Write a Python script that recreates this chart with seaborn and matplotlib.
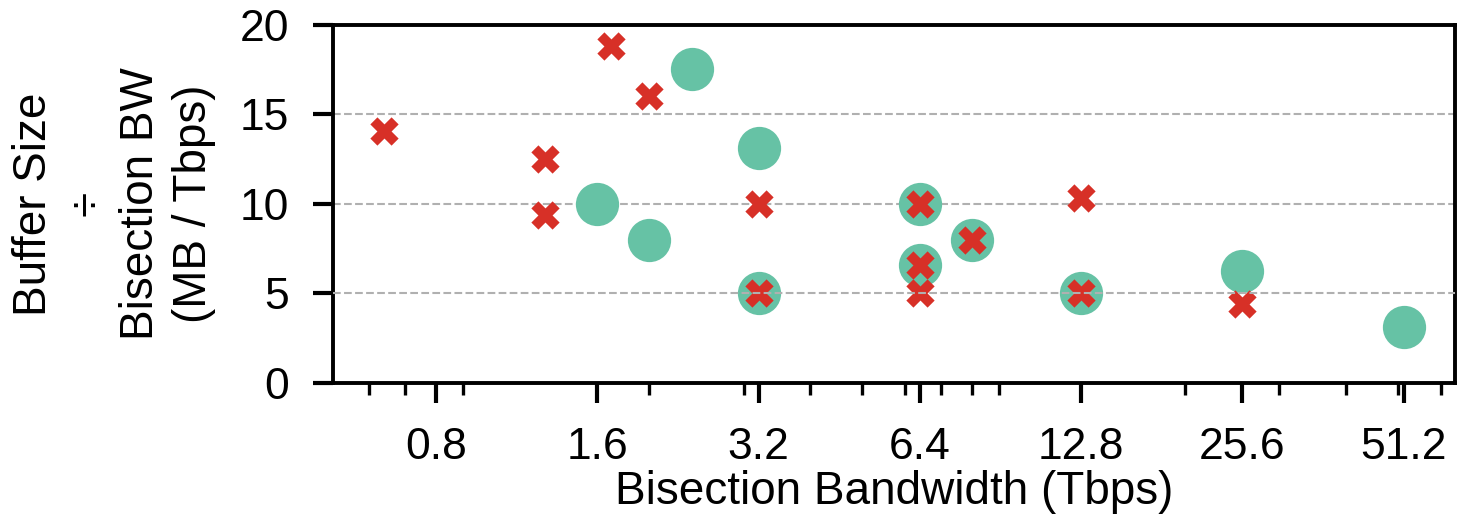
import matplotlib
matplotlib.use("Agg")
import matplotlib.pyplot as plt
import matplotlib.ticker as mticker
import seaborn as sns
import pandas as pd

# ---- data ----
circle_bw = [1.6, 2.0, 2.4, 3.2, 3.2, 6.4, 6.4, 8.0, 12.8, 25.6, 51.2]
circle_ratio = [10.0, 8.0, 17.5, 13.125, 5.0, 10.0, 6.5625, 8.0, 5.0, 6.25, 3.125]

cross_bw = [0.64, 1.28, 1.28, 1.7, 2.0, 3.2, 3.2, 6.4, 6.4, 6.4, 8.0, 12.8, 12.8, 25.6]
cross_ratio = [14.06, 12.5, 9.375, 18.8, 16.0, 10.0, 5.0, 10.0, 6.5625, 5.0, 8.0, 10.31, 5.0, 4.4]

x_ticks = [0.8, 1.6, 3.2, 6.4, 12.8, 25.6, 51.2]
x_tick_labels = ["0.8", "1.6", "3.2", "6.4", "12.8", "25.6", "51.2"]
y_ticks = [0, 5, 10, 15, 20]
grid_levels = [5, 10, 15]

circles = pd.DataFrame({"bw": circle_bw, "ratio": circle_ratio})
crosses = pd.DataFrame({"bw": cross_bw, "ratio": cross_ratio})

# ---- style ----
sns.set_style("ticks")
plt.rcParams["font.family"] = ["Liberation Sans", "DejaVu Sans"]
plt.rcParams["text.color"] = "black"
plt.rcParams["axes.labelcolor"] = "black"
plt.rcParams["xtick.color"] = "black"
plt.rcParams["ytick.color"] = "black"

fig, ax = plt.subplots(figsize=(14.57, 5.2), dpi=100)
fig.subplots_adjust(left=333 / 1457, right=1455 / 1457,
                    bottom=1 - 383 / 520, top=1 - 24.7 / 520)

ax.set_xscale("log")

# dashed reference lines: 10 and 15 below markers, 5 above
for lvl in grid_levels:
    ax.axhline(lvl, color="#b0b0b0", linestyle="--", linewidth=1.5,
               zorder=5 if lvl == 5 else 0.5)

sns.scatterplot(data=circles, x="bw", y="ratio", ax=ax, marker="o",
                s=970, color="#66c2a5", linewidth=0, zorder=2, legend=False)
sns.scatterplot(data=crosses, x="bw", y="ratio", ax=ax, marker="X",
                s=415, color="#d73027", linewidth=0, zorder=3, legend=False)

ax.set_xlim(0.514, 63.8)
ax.set_ylim(0, 20)

ax.set_xticks(x_ticks)
ax.set_xticklabels(x_tick_labels)
ax.xaxis.set_minor_locator(mticker.LogLocator(base=10, subs=range(2, 10)))
ax.xaxis.set_minor_formatter(mticker.NullFormatter())
ax.set_yticks(y_ticks)
ax.yaxis.set_minor_locator(mticker.NullLocator())

ax.tick_params(axis="both", which="major", direction="out", length=14.4,
               width=3.0, pad=17, labelsize=32, color="black",
               labelcolor="black")
ax.tick_params(axis="x", which="minor", direction="out", length=8.6,
               width=2.4, color="black")

for sp in ax.spines.values():
    sp.set_visible(True)
    sp.set_linewidth(2.8)
    sp.set_color("black")

ax.set_xlabel("Bisection Bandwidth (Tbps)", fontsize=33, labelpad=2,
              color="black")
ax.set_ylabel("Buffer Size\n÷\nBisection BW\n(MB / Tbps)", fontsize=33,
              labelpad=17, color="black", linespacing=1.28)

fig.savefig("out.png", dpi=100)
